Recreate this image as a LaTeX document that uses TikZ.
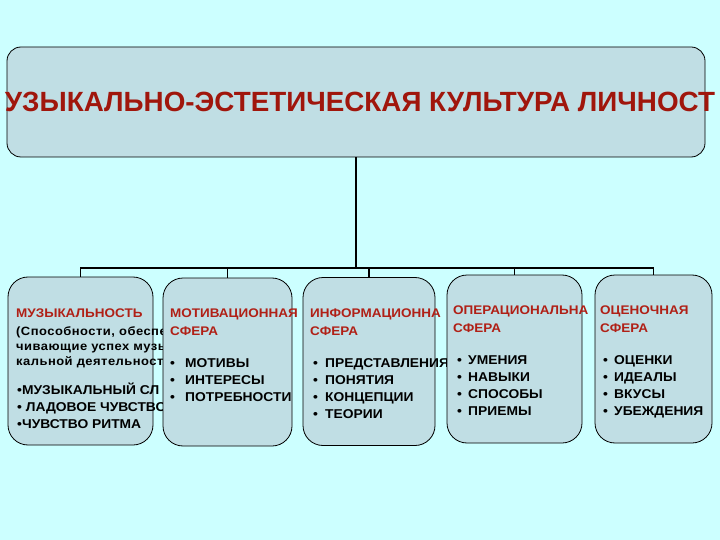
\documentclass[tikz,border=0pt]{standalone}
\usepackage{fontspec}
\setmainfont{Liberation Sans}
\newfontfamily\wide[FakeStretch=1.08]{Liberation Sans}
\newfontfamily\spaced[FakeStretch=1.08,LetterSpace=4]{Liberation Sans}
\definecolor{slidebg}{RGB}{204,255,255}
\definecolor{boxfill}{RGB}{192,222,228}
\definecolor{titlered}{RGB}{160,22,12}
\definecolor{headred}{RGB}{176,32,22}

\begin{document}
\begin{tikzpicture}[x=1pt,y=-1pt,
  sphere/.style={draw=black,line width=.8pt,fill=boxfill,rounded corners=20pt,inner sep=0pt,minimum height=168pt},
  head/.style={anchor=base west,inner sep=0pt,text=headred,font=\wide\bfseries\fontsize{12.5}{14}\selectfont},
  item/.style={anchor=base west,inner sep=0pt,font=\wide\bfseries\fontsize{12.8}{15}\selectfont},
  note/.style={anchor=base west,inner sep=0pt,font=\spaced\bfseries\fontsize{12}{14}\selectfont},
  link/.style={draw,line width=1.6pt}]
  \path[fill=slidebg] (0,0) rectangle (720,540);
  \useasboundingbox (0,0) rectangle (720,540);

  \node[sphere,rounded corners=14pt,minimum width=698pt,minimum height=110pt] (top) at (356,102) {};
  \node[inner sep=0pt,text=titlered,font=\bfseries\fontsize{27.8}{32}\selectfont] (title) at (360,102) {УЗЫКАЛЬНО-ЭСТЕТИЧЕСКАЯ КУЛЬТУРА ЛИЧНОСТ};

  % first sphere: musicality
  \node[sphere,minimum width=145pt] (muz) at (80.5,361) {};
  \node[head] (muzH) at (16,317) {МУЗЫКАЛЬНОСТЬ};
  \node[note] (muzN1) at (16,335) {(Способности, обеспе};
  \node[note] (muzN2) at (16,350) {чивающие успех музы};
  \node[note] (muzN3) at (16,365) {кальной деятельност};
  \node[item] (muz1) at (17,394) {•МУЗЫКАЛЬНЫЙ СЛ};
  \node[item] (muz2) at (17,411) {• ЛАДОВОЕ ЧУВСТВО};
  \node[item] (muz3) at (17,428) {•ЧУВСТВО РИТМА};

  % motivation
  \node[sphere,minimum width=129pt] (mot) at (227.5,362) {};
  \node[head] (motH1) at (170,317) {МОТИВАЦИОННАЯ};
  \node[head] (motH2) at (170,335) {СФЕРА};
  \foreach \w [count=\i] in {МОТИВЫ,ИНТЕРЕСЫ,ПОТРЕБНОСТИ}
    \node[item] (mot\i) at (170,350+17*\i) {\makebox[15pt][l]{•}\w};

  % information
  \node[sphere,minimum width=132pt] (inf) at (369,361.5) {};
  \node[head] (infH1) at (310,317) {ИНФОРМАЦИОННА};
  \node[head] (infH2) at (310,335) {СФЕРА};
  \foreach \w [count=\i] in {ПРЕДСТАВЛЕНИЯ,ПОНЯТИЯ,КОНЦЕПЦИИ,ТЕОРИИ}
    \node[item] (inf\i) at (313,350+17*\i) {\makebox[12pt][l]{•}\w};

  % operational
  \node[sphere,minimum width=135pt] (oper) at (514.5,359) {};
  \node[head] (operH1) at (453,314) {ОПЕРАЦИОНАЛЬНА};
  \node[head] (operH2) at (453,332) {СФЕРА};
  \foreach \w [count=\i] in {УМЕНИЯ,НАВЫКИ,СПОСОБЫ,ПРИЕМЫ}
    \node[item] (oper\i) at (457,347+17*\i) {\makebox[11pt][l]{•}\w};

  % evaluation
  \node[sphere,minimum width=117pt] (eval) at (653.5,359) {};
  \node[head] (evalH1) at (600,314) {ОЦЕНОЧНАЯ};
  \node[head] (evalH2) at (600,332) {СФЕРА};
  \foreach \w [count=\i] in {ОЦЕНКИ,ИДЕАЛЫ,ВКУСЫ,УБЕЖДЕНИЯ}
    \node[item] (eval\i) at (603,347+17*\i) {\makebox[11pt][l]{•}\w};

  % tree lines
  \coordinate (bus) at (356,268);
  \draw[link,line width=2.4pt] (top.south) -- (bus);
  \foreach \b in {muz,mot,inf,oper,eval}
    \draw[link] (\b.north) |- (bus);
\end{tikzpicture}
\end{document}
